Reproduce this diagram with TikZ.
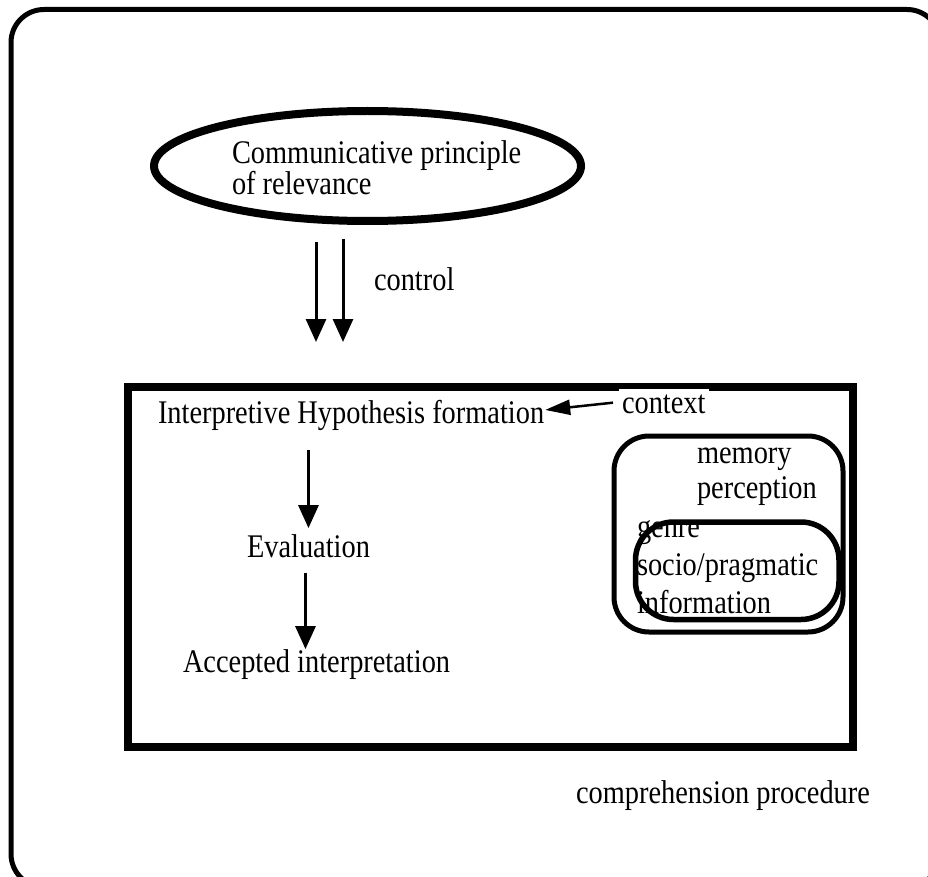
\documentclass[tikz,border=0pt]{standalone}
\usepackage{fontspec}
\setmainfont[FakeStretch=0.86]{Liberation Serif}
\usetikzlibrary{arrows.meta,shapes.geometric}
\begin{document}
\begin{tikzpicture}[x=1pt,y=-1pt,
  txt/.style={inner sep=0pt, outer sep=0pt, anchor=base west, align=left,
              font=\fontsize{33pt}{37pt}\selectfont},
  arr/.style={line width=3pt, -{Triangle[length=23pt,width=20pt]}},
  ctxarr/.style={line width=2.5pt, -{Triangle[length=25pt,width=15pt]}},
  frame/.style={line width=5pt, rounded corners=33pt},
  mainbox/.style={line width=8pt},
  ctxbox/.style={line width=5pt, rounded corners=35pt},
  oval/.style={draw, ellipse, line width=8pt, inner sep=0pt,
               minimum width=427pt, minimum height=110pt}]
\useasboundingbox (0,0) rectangle (928,877);
\clip (0,0) rectangle (928,877);

% outer frame (runs off the page on the right and bottom)
\draw[frame] (11,9.5) rectangle (940,887);

% principle of relevance (multi-line nodes: base = last line)
\node[oval] (cpr) at (367.5,166) {};
\node[txt, font=\fontsize{33pt}{29.5pt}\selectfont] (cprtext) at (232,194.5)
  {Communicative principle\\of relevance};

% control arrows
\coordinate (c1s) at (316,242);
\coordinate (c1e) at (316,342);
\coordinate (c2s) at (343,239);
\coordinate (c2e) at (343,342);
\draw[arr] (c1s) -- (c1e);
\draw[arr] (c2s) -- (c2e);
\node[txt] (control) at (374,290) {control};

% comprehension procedure box
\draw[mainbox] (127.5,387) rectangle (852.5,747);

\node[txt] (hyp) at (158,423) {Interpretive Hypothesis formation};
\node[txt] (eval) at (247,557) {Evaluation};
\node[txt] (acc) at (183,672) {Accepted interpretation};

\draw[arr] ([yshift=-20pt]hyp.south -| eval.north) -- ([yshift=6pt]eval.north);
\draw[arr] ([xshift=-3pt,yshift=-16pt]eval.south) -- ([xshift=-3pt]eval.south |- acc.north);

% context
\node[txt, fill=white, inner xsep=3pt, inner ysep=5pt, text height=19pt] (ctx) at (619,413) {context};
\draw[ctxarr] ([xshift=-6pt,yshift=1pt]ctx.west) -- ([xshift=1pt,yshift=5pt]hyp.east);

\draw[ctxbox] (614,436) rectangle (843,632);
\draw[ctxbox, line width=5.5pt, rounded corners=38pt] (635.5,522) rectangle (839,619.5);
\node[txt, font=\fontsize{33pt}{35pt}\selectfont] (mem) at (697,498) {memory\\perception};
\node[txt, font=\fontsize{33pt}{38pt}\selectfont] (genre) at (637,613)
  {genre\\socio/pragmatic\\information};

\node[txt] (proc) at (576,803) {comprehension procedure};
\end{tikzpicture}
\end{document}
